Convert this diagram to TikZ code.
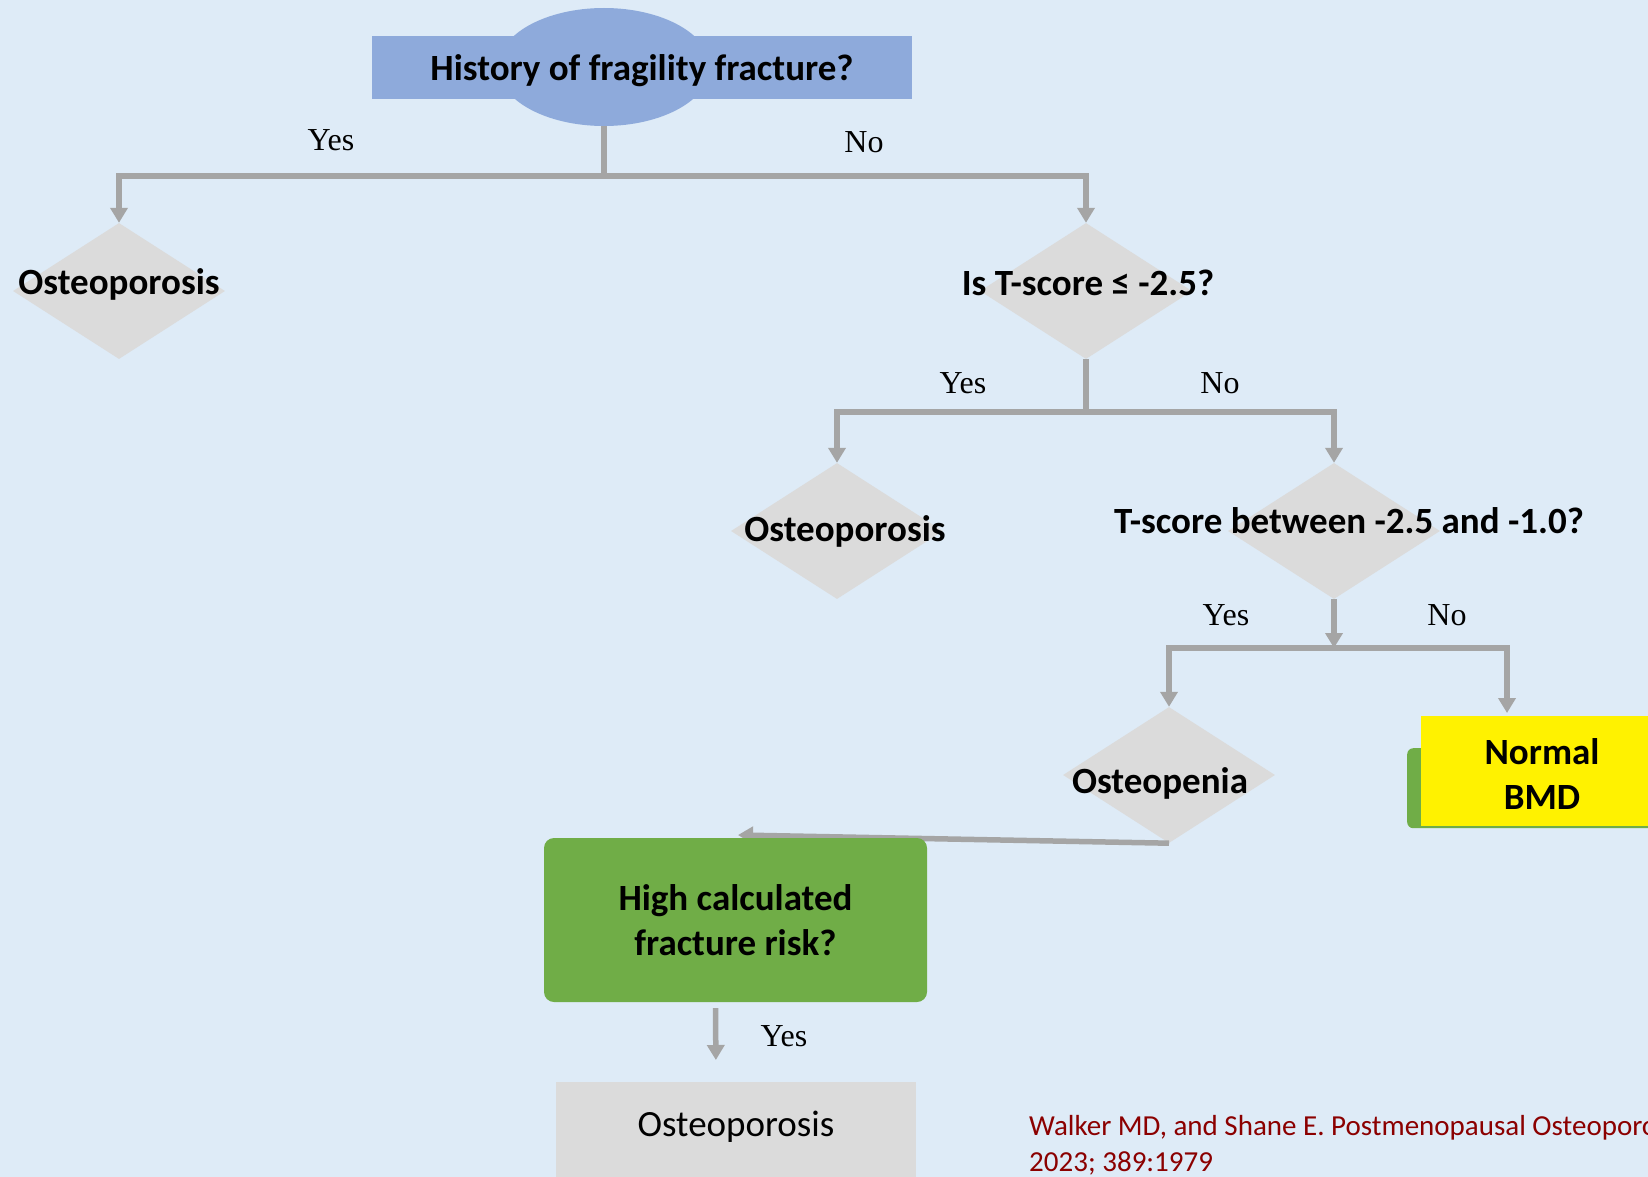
\documentclass[tikz,border=0pt]{standalone}
\usepackage{fontspec}
\setmainfont{Carlito}
\newfontfamily\serifyn{Liberation Serif}
\usetikzlibrary{shapes.geometric,arrows.meta,positioning}
\definecolor{bgblue}{HTML}{DEEBF7}
\definecolor{topblue}{HTML}{8EAADB}
\definecolor{diagrey}{HTML}{DBDBDB}
\definecolor{linegrey}{HTML}{A5A5A5}
\definecolor{riskgreen}{HTML}{70AD47}
\definecolor{citered}{HTML}{8B0000}

\begin{document}
\begin{tikzpicture}[x=1pt, y=-1pt,
    dia/.style = {diamond, fill=diagrey, minimum width=212pt, minimum height=136pt, inner sep=0pt},
    lbl/.style = {font=\fontsize{37}{45}\selectfont\bfseries, align=center, inner sep=0pt},
    yn/.style = {font=\serifyn\fontsize{32}{38}\selectfont, inner sep=0pt},
    link/.style = {draw=linegrey, line width=5.5pt},
    arr/.style = {link, -{Triangle[width=17pt,length=15pt]}}]
        \useasboundingbox (0,0) rectangle (1648,1177);
        \clip (0,0) rectangle (1648,1177);
        \fill[bgblue] (0,0) rectangle (1648,1177);

        \node[ellipse, fill=topblue, minimum width=212pt, minimum height=118pt, inner sep=0pt] (histell) at (604,67) {};
        \node[fill=topblue, minimum width=540pt, minimum height=63pt, inner sep=0pt] (histbox) at (642,68) {};
        \node[lbl] (hist) at (642,71) {History of fragility fracture?};

        \node[dia] (d1) at (119,291) {};
        \node[lbl] (d1t) at (119,284) {Osteoporosis};
        \node[dia] (d2) at (1086,291) {};
        \node[lbl] (d2t) at (1088,283) {Is T-score ≤ -2.5?};
        \node[dia] (d3) at (837,531) {};
        \node[lbl] (d3t) at (845,531) {Osteoporosis};
        \node[dia] (d4) at (1334,531) {};
        \node[lbl] (d4t) at (1349,521) {T-score between -2.5 and -1.0?};
        \node[dia] (d5) at (1169,775) {};
        \node[lbl] (d5t) at (1160,783) {Osteopenia};

        \node[fill=riskgreen, rounded corners=6pt, minimum width=300pt, minimum height=80pt, inner sep=0pt, anchor=north west] (bmdback) at (1407,748) {};
        \node[fill=yellow, minimum width=280pt, minimum height=110pt, inner sep=0pt, anchor=north west] (bmd) at (1421,716) {};
        \node[lbl] (bmdt) at (1542,774) {Normal\\BMD};

        \node[yn] (yes1) at (331,140) {Yes};
        \node[yn] (no1) at (864,142) {No};
        \node[yn] (yes2) at (963,383) {Yes};
        \node[yn] (no2) at (1220,383) {No};
        \node[yn] (yes3) at (1226,615) {Yes};
        \node[yn] (no3) at (1447,615) {No};

        \coordinate (j1) at (604,176);
        \coordinate (j2) at (1086,412);
        \coordinate (j3) at (1334,648);
        \coordinate (tip) at (738,835);

        \draw[link] (histell.south) -- (j1);
        \draw[arr] (j1) -| (d1.north);
        \draw[arr] (j1) -| (d2.north);

        \draw[link] (d2.south) -- (j2);
        \draw[arr] (j2) -| (d3.north);
        \draw[arr] (j2) -| (d4.north);

        \draw[arr] (d4.south) -- (j3);
        \draw[arr] (j3) -| (d5.north);
        \draw[arr] (j3) -| ([xshift=86pt, yshift=3pt]bmd.north west);

        \draw[arr] (d5.south) -- (tip);

        \node[lbl, fill=riskgreen, rounded corners=10pt, minimum width=383pt, minimum height=164pt] (risk) at (735.5,920) {High calculated\\fracture risk?};
        \node[fill=diagrey, minimum width=360pt, minimum height=110pt, inner sep=0pt, anchor=north] (result) at (736,1082) {};
        \node[font=\fontsize{37}{45}\selectfont, inner sep=0pt] (resultt) at (736,1127) {Osteoporosis};

        \draw[arr, shorten <=6pt, shorten >=22pt] ([xshift=-20pt]risk.south) -- ([xshift=-20pt]result.north);
        \node[yn] (yes4) at (784,1036) {Yes};

        \node[font=\fontsize{29}{36}\selectfont, text=citered, align=left, inner sep=0pt, anchor=west] (cite) at (1029,1145) {Walker MD, and Shane E. Postmenopausal Osteoporosis.\\2023; 389:1979};
    \end{tikzpicture}
\end{document}
